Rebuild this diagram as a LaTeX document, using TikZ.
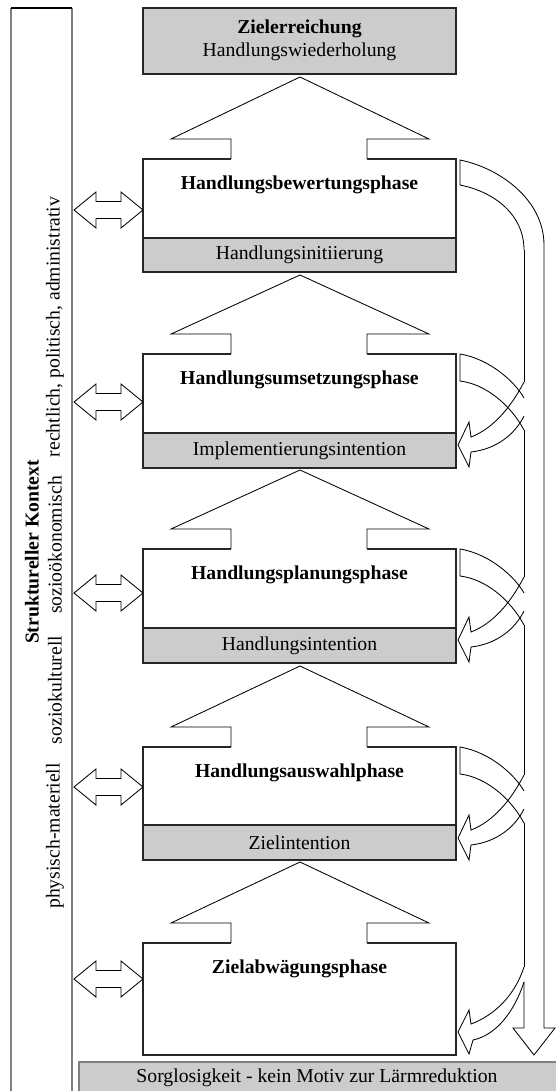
\documentclass[tikz,border=0pt]{standalone}
\usepackage{fontspec}
\setmainfont{Liberation Serif}
\usetikzlibrary{calc}

\tikzset{
	phase/.style={draw=black!85,line width=0.9pt,fill=white},
	absicht/.style={draw=black!85,line width=0.9pt,fill=black!20},
	pfeil/.style={draw=black,line width=0.6pt,line join=miter},
	titel/.style={font=\fontsize{14}{16}\selectfont\bfseries,inner sep=0pt},
	normal/.style={font=\fontsize{14}{16}\selectfont,inner sep=0pt}
}

\begin{document}
\begin{tikzpicture}[x=0.025cm,y=-0.025cm]
		\useasboundingbox (0,0) rectangle (555,1091);
		
		% Kontext links
		\draw[gray,line width=2pt] (11,8) -- (11,1100);
		\draw[gray,line width=2pt] (72,8) -- (72,1100);
		\draw[line width=1pt] (11,8) -- (72,8);
		\node[titel,rotate=90] (kontext) at (32,552) {Struktureller Kontext};
		\foreach \n/\y/\txt in {phys/836/physisch-materiell,kult/690/soziokulturell,oek/545/sozioökonomisch,recht/327/{rechtlich, politisch, administrativ}}
		\node[normal,rotate=90] (\n) at (55,\y) {\txt};
		
		% Zielerreichung oben
		\draw[absicht] (143,8) rectangle (456,74);
		\node[titel] (ziel) at (299.5,29) {Zielerreichung};
		\node[normal] (wdh) at (299.5,52) {Handlungswiederholung};
		
		% Phasen mit Intention
		\foreach \t/\g/\b/\n/\titel/\abs in {159/238/272/bew/Handlungsbewertungsphase/Handlungsinitiierung,354/433/468/ums/Handlungsumsetzungsphase/Implementierungsintention,549/628/663/pla/Handlungsplanungsphase/Handlungsintention,747/825/860/aus/Handlungsauswahlphase/Zielintention}
		{
			\draw[phase] (143,\t) rectangle (456,\b);
			\draw[absicht] (143,\g) rectangle (456,\b);
			\node[titel] (\n) at (299.5,{\t+26}) {\titel};
			\node[normal] (\n-i) at (299.5,{(\g+\b)/2}) {\abs};
		}
		\draw[phase] (143,943) rectangle (456,1055);
		\node[titel] (abw) at (299.5,969) {Zielabwägungsphase};
		
		% Sorglosigkeit unten
		\draw[draw=gray,fill=black!20,line width=0.9pt] (79,1062) rectangle (565,1100);
		\node[normal] (sorg) at (317,1078) {Sorglosigkeit - kein Motiv zur Lärmreduktion};
		
		% Pfeile nach oben
		\foreach \s/\t in {77/159,275/354,470/549,666/747,862/943}
		{
			\fill[white] (231,\t+1) -- (231,\t-20) -- (171,\t-20) -- (300,\s) -- (429,\t-20) -- (367,\t-20) -- (367,\t+1) -- cycle;
			\draw[pfeil] (231,\t) -- (231,\t-20) -- (171,\t-20) -- (300,\s) -- (429,\t-20) -- (367,\t-20) -- (367,\t);
		}
		
		% Doppelpfeile zum Kontext
		\foreach \c in {210,402,593,787,979}
		\draw[pfeil] (74,\c) -- (96,\c-18) -- (96,\c-8.5) -- (121,\c-8.5) -- (121,\c-18) -- (143,\c)
		-- (121,\c+18) -- (121,\c+8.5) -- (96,\c+8.5) -- (96,\c+18) -- cycle;
		
		% Ruecksprung rechts
		\draw[pfeil] (524,250) .. controls (524,215) and (495,192) .. (460,185) -- (460,160)
		.. controls (500,168) and (544,200) .. (544,245) -- (544,1028) -- (555,1028) -- (534,1055)
		-- (513,1028) -- (524,1028) -- (524,982);
		\foreach \a/\b in {250/382,430/577,625/775,823/967}
		\draw[pfeil] (524,\a) -- (524,\b);
		\foreach \t in {354,549,747}
		{
			\draw[pfeil] (524,\t+44) .. controls (515,\t+28) and (490,\t+5) .. (460,\t) -- (460,\t+27)
			.. controls (485,\t+30) and (510,\t+50) .. (524,\t+76);
			\draw[pfeil] (524,\t+28) .. controls (510,\t+55) and (492,\t+75) .. (471,\t+83) -- (469,\t+68)
			-- (458,\t+91) -- (469,\t+113) -- (471,\t+98) .. controls (497,\t+95) and (515,\t+80) .. (524,\t+62);
		}
		\draw[pfeil] (524,967) .. controls (515,995) and (495,1015) .. (471,1024) -- (469,1010)
		-- (458,1032) -- (469,1054) -- (473,1040) .. controls (497,1035) and (515,1010) .. (524,982);
	\end{tikzpicture}
\end{document}
